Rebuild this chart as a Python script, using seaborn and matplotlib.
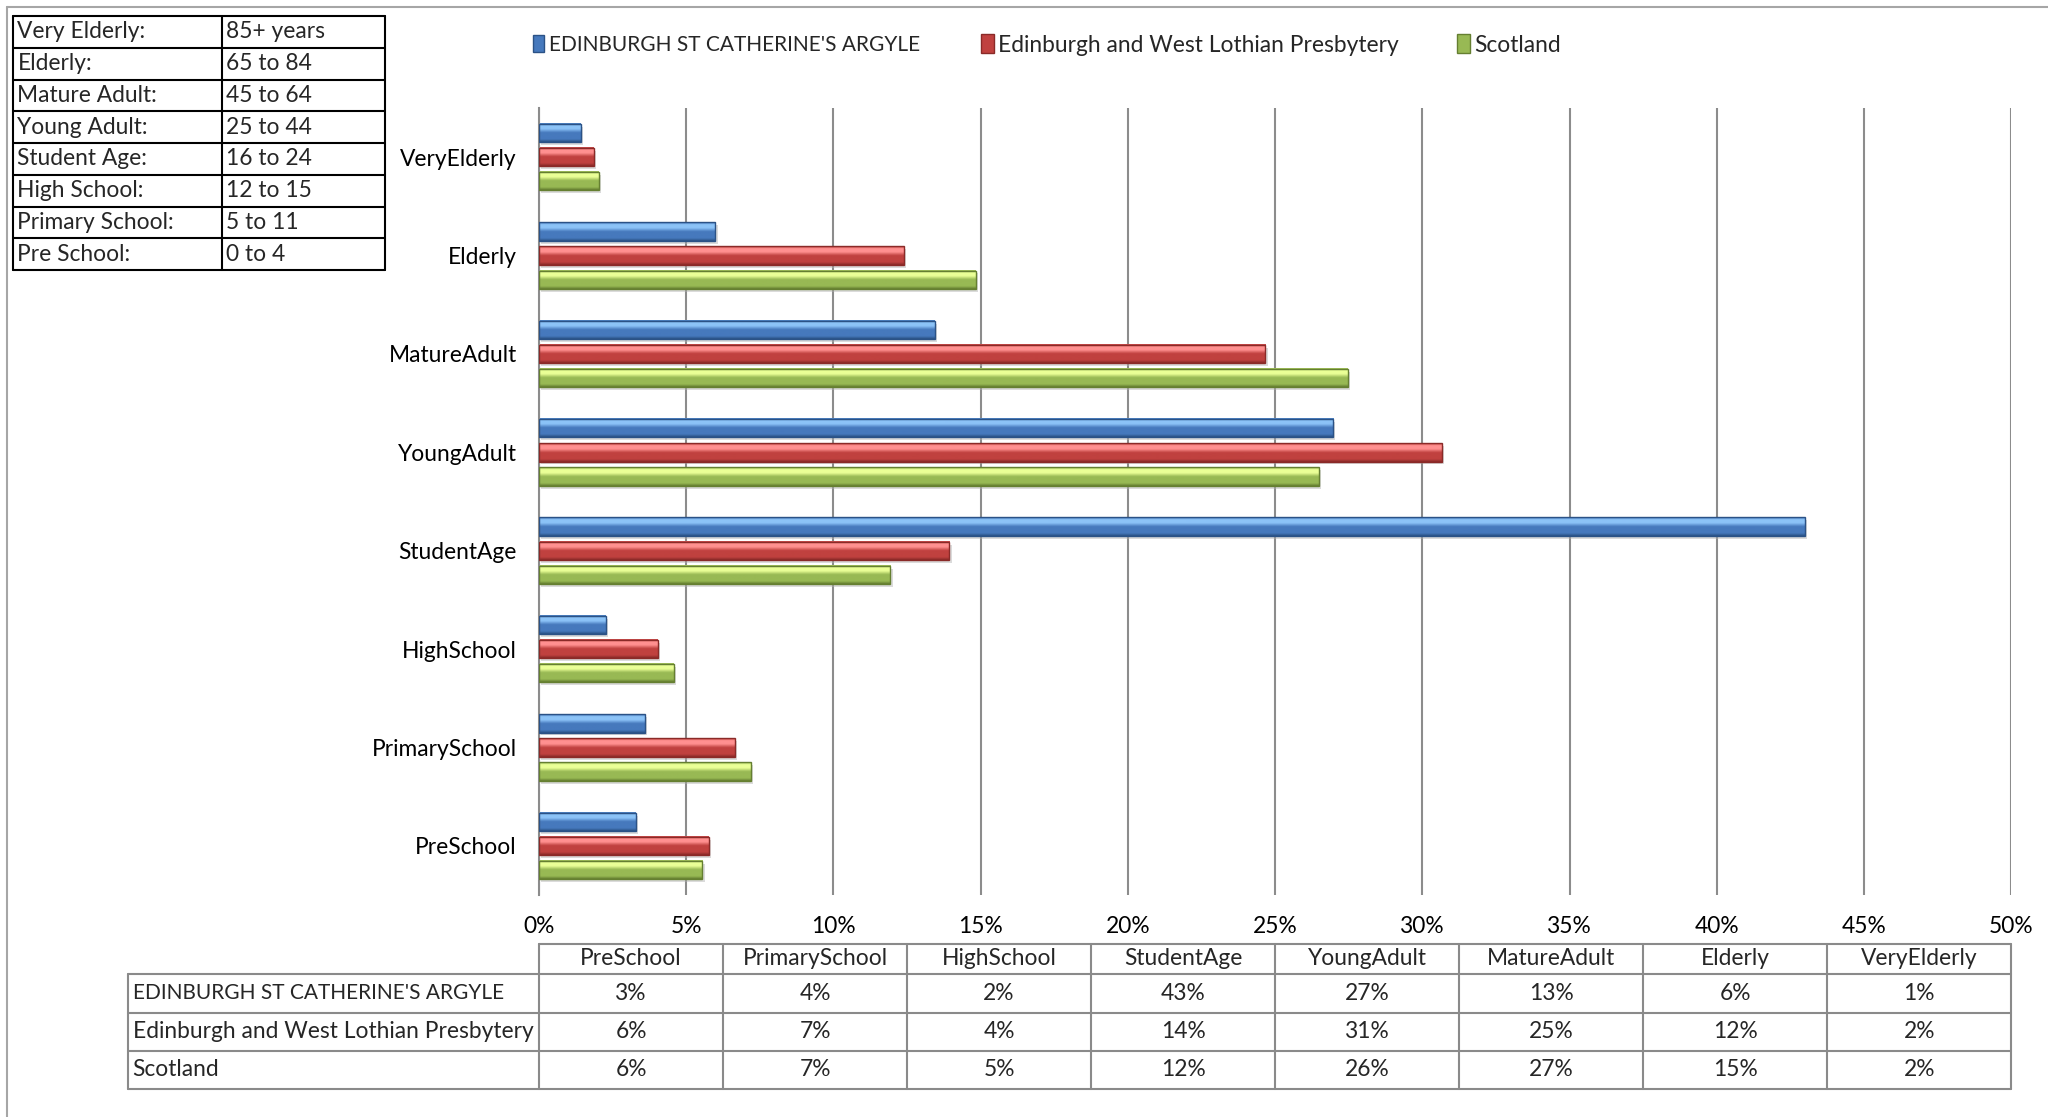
import numpy as np
import pandas as pd
import matplotlib
matplotlib.use("Agg")
import matplotlib.pyplot as plt
import matplotlib.colors as mcolors
from matplotlib.lines import Line2D
from matplotlib.patches import Patch
from matplotlib.ticker import PercentFormatter
import seaborn as sns

# age bands, top to bottom as in the chart
categories = ["VeryElderly", "Elderly", "MatureAdult", "YoungAdult",
              "StudentAge", "HighSchool", "PrimarySchool", "PreSchool"]
series = ["EDINBURGH ST CATHERINE'S ARGYLE",
          "Edinburgh and West Lothian Presbytery",
          "Scotland"]

# percentages
parish = [1.41, 5.99, 13.44, 26.97, 42.99, 2.26, 3.59, 3.28]
presbytery = [1.85, 12.38, 24.67, 30.66, 13.93, 4.04, 6.65, 5.77]
scotland = [2.02, 14.84, 27.46, 26.49, 11.93, 4.57, 7.19, 5.55]

# age band key (top-left box)
band_names = ["Very Elderly:", "Elderly:", "Mature Adult:", "Young Adult:",
              "Student Age:", "High School:", "Primary School:", "Pre School:"]
band_ages = ["85+ years", "65 to 84", "45 to 64", "25 to 44",
             "16 to 24", "12 to 15", "5 to 11", "0 to 4"]

base_colors = ["#4679bd", "#c0413f", "#98b954"]
light_colors = ["#8cc3f7", "#ff9090", "#eaff96"]
dark_colors = ["#2b5286", "#8a2a28", "#657f31"]

df = pd.DataFrame({
    "category": categories * 3,
    "series": [s for s in series for _ in categories],
    "value": parish + presbytery + scotland,
})

sns.set_theme(style="white")
plt.rcParams["font.family"] = ["Lato", "DejaVu Sans"]
FS = 16.4
# the all-caps name is set a little smaller so it fits like the original
series_fs = [15, 16.4, 16.4]

fig = plt.figure(figsize=(20.48, 11.17), dpi=100)
ax = fig.add_axes([0.2632, 0.1987, 0.7188, 0.7046])

sns.barplot(data=df, y="category", x="value", hue="series", orient="h",
            order=categories, hue_order=series, palette=base_colors,
            width=0.735, gap=0.24, legend=False, ax=ax, zorder=2)

# bevel-like shading on every bar
def gradient(i):
    stops = [(0.0, base_colors[i]), (0.12, light_colors[i]), (0.3, light_colors[i]),
             (0.5, base_colors[i]), (0.85, base_colors[i]), (1.0, dark_colors[i])]
    cmap = mcolors.LinearSegmentedColormap.from_list("g%d" % i, stops)
    return cmap(np.linspace(0, 1, 40))[:, None, :]

n_cat = len(categories)
for k, patch in enumerate(ax.patches[:3 * n_cat]):
    i = k // n_cat
    x0, y0 = patch.get_x(), patch.get_y()
    w, h = patch.get_width(), patch.get_height()
    # soft drop shadow
    ax.add_patch(plt.Rectangle((x0 + 0.08, y0 + 0.03), w, h, facecolor="#b0b0b0",
                               alpha=0.45, edgecolor="none", zorder=1.5))
    ax.imshow(gradient(i), extent=(x0, x0 + w, y0 + h, y0), aspect="auto",
              interpolation="bilinear", zorder=2.5)
    patch.set_facecolor("none")
    patch.set_edgecolor(dark_colors[i])
    patch.set_linewidth(1.0)
    patch.set_zorder(3)

ax.set_xlim(0, 50)
ax.set_ylim(len(categories) - 0.5, -0.5)
ax.set_xticks(np.arange(0, 51, 5))
ax.xaxis.set_major_formatter(PercentFormatter(decimals=0))
ax.grid(axis="x", color="#8c8c8c", lw=1.5, zorder=0)
ax.grid(axis="y", visible=False)
ax.set_axisbelow(True)
for s in ["top", "right", "bottom"]:
    ax.spines[s].set_visible(False)
ax.spines["left"].set_color("#8c8c8c")
ax.spines["left"].set_linewidth(1.5)
ax.tick_params(axis="y", length=0, pad=16, labelsize=FS, labelcolor="black")
ax.tick_params(axis="x", length=0, pad=15, labelsize=FS, labelcolor="black")
ax.set_xlabel("")
ax.set_ylabel("")

# legend, one entry per series at its own spot
legend_x = [533 / 2048, 981 / 2048, 1457 / 2048]
for i, name in enumerate(series):
    h = Patch(facecolor=base_colors[i], edgecolor=dark_colors[i])
    fig.legend([h], [name], loc="center left", bbox_to_anchor=(legend_x[i], 1 - 45 / 1117),
               frameon=False, fontsize=series_fs[i], handlelength=0.55, handleheight=0.9,
               handletextpad=0.2, borderaxespad=0, borderpad=0)

# data table under the chart
tax = fig.add_axes([0.2632, 0.0251, 0.7188, 0.1298])
tax.set_xlim(0, 8)
tax.set_ylim(1, 0)
tax.axis("off")
edges = [0, 0.207, 0.476, 0.738, 1.0]
label_left = -2.234
lc = "#8a8a8a"
table_order = categories[::-1]
rows = [parish[::-1], presbytery[::-1], scotland[::-1]]

tax.plot([0, 8], [edges[0]] * 2, color=lc, lw=1.5, clip_on=False)
for e in edges[1:]:
    tax.plot([label_left, 8], [e, e], color=lc, lw=1.5, clip_on=False)
for c in range(9):
    tax.plot([c, c], [0, 1], color=lc, lw=1.5, clip_on=False)
tax.plot([label_left] * 2, [edges[1], 1], color=lc, lw=1.5, clip_on=False)

for c, name in enumerate(table_order):
    tax.text(c + 0.5, (edges[0] + edges[1]) / 2, name, ha="center", va="center",
             fontsize=FS)
for r, (sname, vals) in enumerate(zip(series, rows)):
    yc = (edges[r + 1] + edges[r + 2]) / 2
    tax.text(label_left + 0.025, yc, sname, ha="left", va="center",
             fontsize=series_fs[r], clip_on=False)
    for c, v in enumerate(vals):
        tax.text(c + 0.5, yc, "%d%%" % round(v), ha="center", va="center", fontsize=FS)

# age band key, top left
kax = fig.add_axes([13 / 2048, 1 - 270 / 1117, 372 / 2048, 254 / 1117])
kax.set_xlim(0, 1)
kax.set_ylim(len(band_names), 0)
kax.axis("off")
split = (222 - 13) / 372
for r in range(len(band_names) + 1):
    kax.plot([0, 1], [r, r], color="black", lw=1.5, clip_on=False)
for xv in [0, split, 1]:
    kax.plot([xv, xv], [0, len(band_names)], color="black", lw=1.5, clip_on=False)
for r, (n, a) in enumerate(zip(band_names, band_ages)):
    kax.text(0.012, r + 0.5, n, ha="left", va="center", fontsize=FS)
    kax.text(split + 0.012, r + 0.5, a, ha="left", va="center", fontsize=FS)

# outer chart frame (left and top edges visible)
fig.add_artist(Line2D([7 / 2048, 7 / 2048], [0, 1 - 7 / 1117], color="#a6a6a6",
                      lw=1.5, transform=fig.transFigure))
fig.add_artist(Line2D([7 / 2048, 1], [1 - 7 / 1117] * 2, color="#a6a6a6",
                      lw=1.5, transform=fig.transFigure))

fig.savefig("out.png", dpi=100, facecolor="white")
